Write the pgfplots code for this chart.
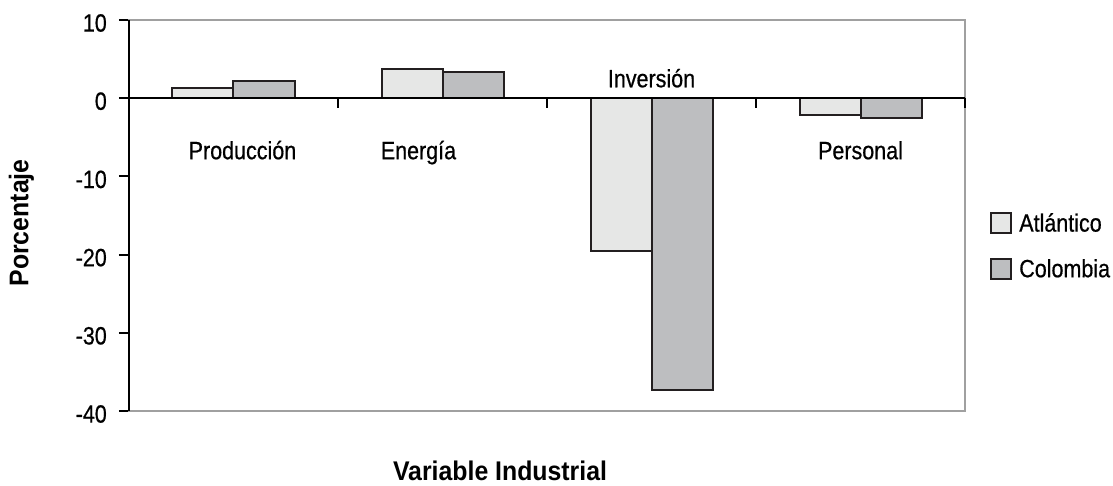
\documentclass[border=0pt]{standalone}
\usepackage{pgfplots}
\pgfplotsset{compat=1.18}
\usepackage{fontspec}
\setmainfont{Liberation Sans}[FakeStretch=0.86, FakeBold=0.6]
\newfontfamily\labfont{Liberation Sans}[FakeStretch=0.92]
\definecolor{barA}{HTML}{E6E7E6}
\definecolor{barB}{HTML}{BDBEC0}
\definecolor{edge}{HTML}{231F20}
\definecolor{frame}{HTML}{A0A0A0}
\pgfplotsset{ybar legend/.style={legend image code/.code={\draw[##1,line width=2pt] (0pt,-10pt) rectangle (20pt,10pt);}}}
\newcommand{\tf}{\fontsize{25}{30}\selectfont}
\begin{document}
\begin{tikzpicture}
\begin{axis}[
  scale only axis, width=836pt, height=391pt,
  xmin=-0.5, xmax=3.5, ymin=-40, ymax=10,
  ybar=0pt, bar width=61pt,
  xtick=\empty,
  ytick={-40,-30,-20,-10,0,10},
  yticklabels={-40,-30,-20,-10,0,10},
  ytick pos=left, tick align=outside, major tick length=10pt,
  ytick style={black, line width=2pt},
  yticklabel style={font=\tf, inner xsep=12pt, yshift=-3pt},
  axis line style={draw=frame, line width=2pt},
  clip=false,
  ylabel={\labfont\bfseries Porcentaje},
  ylabel style={at={(axis description cs:-0.1286,0.481)}, anchor=center, font=\fontsize{27}{32}\selectfont},
  xlabel={\labfont\bfseries Variable Industrial},
  xlabel style={at={(axis description cs:0.4438,-0.1765)}, anchor=base, font=\fontsize{27}{32}\selectfont},
  legend style={at={(axis description cs:1.030,0.5115)}, anchor=north west, draw=none, fill=none,
    font=\tf, inner sep=0pt, row sep=22pt,
    nodes={inner xsep=0pt}},
  legend cell align=left,
  legend style={/tikz/every odd column/.append style={column sep=7pt}},
]
\addplot[fill=barA, draw=edge, line width=2pt] coordinates {(0,1.3) (1,3.7) (2,-19.6) (3,-2.2)};
\addlegendentry{Atlántico}
\addplot[fill=barB, draw=edge, line width=2pt] coordinates {(0,2.2) (1,3.4) (2,-37.3) (3,-2.5)};
\addlegendentry{Colombia}
\draw[black, line width=2pt] (rel axis cs:0,0) -- (rel axis cs:0,1);
\draw[black, line width=2pt] (axis cs:-0.5,0) -- (axis cs:3.5,0);
\draw[black, line width=2pt] (axis cs:0.5,0) -- ++(0pt,-10pt);
\draw[black, line width=2pt] (axis cs:1.5,0) -- ++(0pt,-10pt);
\draw[black, line width=2pt] (axis cs:2.5,0) -- ++(0pt,-10pt);
\draw[black, line width=2pt] (axis cs:3.5,0) -- ++(0pt,-10pt);
\node[anchor=base, font=\tf] at (axis cs:0.043,-7.8) {Producción};
\node[anchor=base, font=\tf] at (axis cs:0.885,-7.8) {Energía};
\node[anchor=base, font=\tf] at (axis cs:2.0,1.4) {Inversión};
\node[anchor=base, font=\tf] at (axis cs:3.0,-7.8) {Personal};
\path (rel axis cs:0,0) ++(-129pt,-74pt) rectangle ++(1113pt,485pt);
\end{axis}
\end{tikzpicture}
\end{document}
